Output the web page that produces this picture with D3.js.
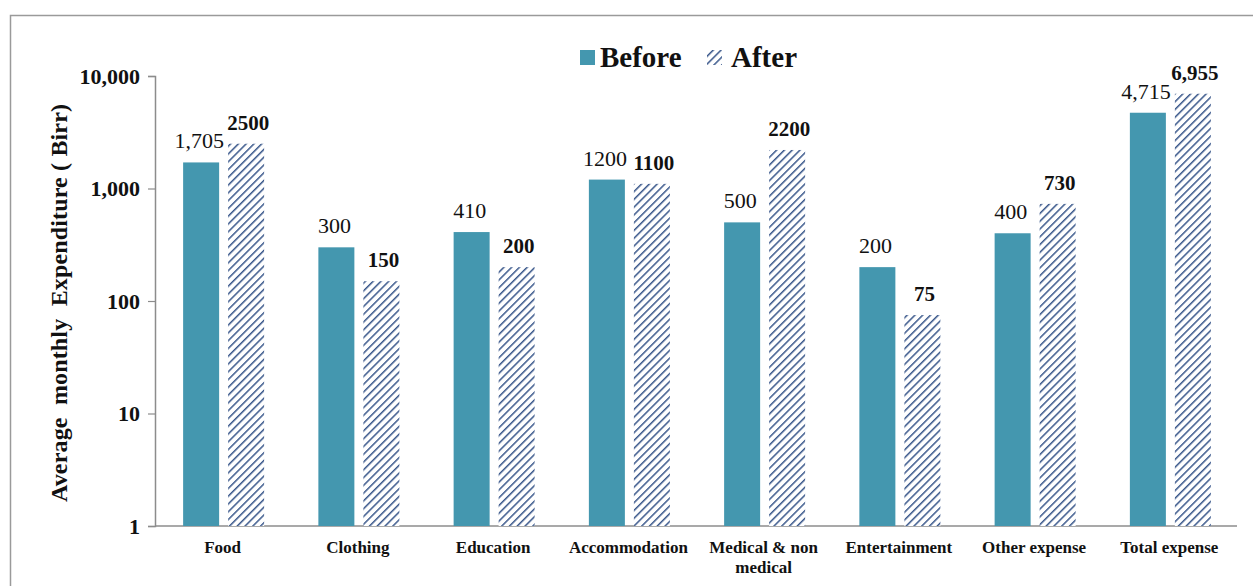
<!DOCTYPE html>
<html>
<head>
<meta charset="utf-8">
<script src="https://cdn.jsdelivr.net/npm/d3@7"></script>
<style>
  body { margin: 0; background: #fff; }
  text { font-family: "Liberation Serif", "Times New Roman", serif; }
</style>
</head>
<body>
<div id="viz"></div>
<script>
// ========================================
// Data
// ========================================
var categories = ['Food', 'Clothing', 'Education', 'Accommodation', 'Medical & non medical',
                  'Entertainment', 'Other expense', 'Total expense'];
var before_values = [1705, 300, 410, 1200, 500, 200, 400, 4715];
var after_values = [2500, 150, 200, 1100, 2200, 75, 730, 6955];
var before_labels = ['1,705', '300', '410', '1200', '500', '200', '400', '4,715'];
var after_labels = ['2500', '150', '200', '1100', '2200', '75', '730', '6,955'];
var y_ticks = [1, 10, 100, 1000, 10000];

// ========================================
// SVG
// ========================================
var width = 1253, height = 586;
var teal = '#4497AF', hatch = '#38568A';

var svg = d3.select('#viz').append('svg')
   .attr('width', width)
   .attr('height', height);

var defs = svg.append('defs');
var pat = defs.append('pattern')
   .attr('id', 'hatch')
   .attr('patternUnits', 'userSpaceOnUse')
   .attr('width', 5.5)
   .attr('height', 5.5)
   .attr('patternTransform', 'rotate(45)');
pat.append('rect').attr('width', 5.5).attr('height', 5.5).attr('fill', '#fff');
pat.append('line')
   .attr('x1', 0).attr('y1', 0).attr('x2', 0).attr('y2', 5.5)
   .attr('stroke', hatch).attr('stroke-width', 3);

// outer frame
svg.append('rect')
   .attr('x', 10.5).attr('y', 15.5)
   .attr('width', 1260).attr('height', 600)
   .attr('fill', 'none')
   .attr('stroke', '#9a9a9a')
   .attr('stroke-width', 1.5);

var plot_left = 155, plot_right = 1237, plot_top = 76, plot_bottom = 526;

var x = d3.scaleBand().domain(categories).range([plot_left, plot_right]);
var y = d3.scaleLog().domain([1, 10000]).range([plot_bottom, plot_top]);

var bar_w = 36, gap = 9;

// Y axis
var yAxis = svg.append('g')
   .attr('transform', `translate(${plot_left},0)`)
   .call(d3.axisLeft(y).tickValues(y_ticks).tickSize(7).tickFormat(d3.format(',')));
yAxis.select('.domain').attr('stroke', '#8c8c8c').attr('stroke-width', 1.5);
yAxis.selectAll('.tick line').attr('stroke', '#8c8c8c').attr('stroke-width', 1.2);
yAxis.selectAll('.tick text')
   .attr('x', -15)
   .style('font-family', '"Liberation Serif", serif')
   .style('font-size', '22px')
   .style('font-weight', 'bold')
   .attr('fill', '#111');

// X axis line
svg.append('line')
   .attr('x1', plot_left).attr('x2', plot_right)
   .attr('y1', plot_bottom).attr('y2', plot_bottom)
   .attr('stroke', '#8c8c8c').attr('stroke-width', 1.5);

// bars
var groups = svg.selectAll('.group')
   .data(categories)
   .enter()
   .append('g')
   .attr('class', 'group');

groups.append('rect')
   .attr('x', d => x(d) + x.bandwidth() / 2 - bar_w - gap / 2 + 1)
   .attr('y', (d, i) => y(before_values[i]))
   .attr('width', bar_w)
   .attr('height', (d, i) => plot_bottom - y(before_values[i]))
   .attr('fill', teal);

groups.append('rect')
   .attr('x', d => x(d) + x.bandwidth() / 2 + gap / 2 + 1)
   .attr('y', (d, i) => y(after_values[i]))
   .attr('width', bar_w)
   .attr('height', (d, i) => plot_bottom - y(after_values[i]))
   .attr('fill', 'url(#hatch)');

// value labels
groups.append('text')
   .attr('x', d => x(d) + x.bandwidth() / 2 - bar_w / 2 - gap / 2 - 1)
   .attr('y', (d, i) => y(before_values[i]) - 14)
   .attr('text-anchor', 'middle')
   .style('font-size', '22px')
   .attr('fill', '#111')
   .text((d, i) => before_labels[i]);

groups.append('text')
   .attr('x', d => x(d) + x.bandwidth() / 2 + bar_w / 2 + gap / 2 + 3)
   .attr('y', (d, i) => y(after_values[i]) - 14)
   .attr('text-anchor', 'middle')
   .style('font-size', '21px')
   .style('font-weight', 'bold')
   .attr('fill', '#111')
   .text((d, i) => after_labels[i]);

// category labels
groups.each(function(d) {
   var t = d3.select(this).append('text')
      .attr('x', x(d) + x.bandwidth() / 2)
      .attr('y', plot_bottom + 27)
      .attr('text-anchor', 'middle')
      .style('font-size', '17px')
      .style('font-weight', 'bold')
      .attr('fill', '#111');
   if (d === 'Medical & non medical') {
      t.append('tspan').attr('x', x(d) + x.bandwidth() / 2).text('Medical & non');
      t.append('tspan').attr('x', x(d) + x.bandwidth() / 2).attr('dy', 20).text('medical');
   } else {
      t.text(d);
   }
});

// y axis title
svg.append('text')
   .attr('transform', `translate(67, 303) rotate(-90)`)
   .attr('text-anchor', 'middle')
   .attr('xml:space', 'preserve')
   .attr('textLength', 398)
   .attr('lengthAdjust', 'spacing')
   .style('white-space', 'pre')
   .style('font-size', '24px')
   .style('font-weight', 'bold')
   .attr('fill', '#111')
   .text('Average  monthly  Expenditure ( Birr)');

// legend
var legend = svg.append('g');
legend.append('rect')
   .attr('x', 580).attr('y', 50).attr('width', 15).attr('height', 15)
   .attr('fill', teal);
legend.append('text')
   .attr('x', 600).attr('y', 67)
   .style('font-size', '29px')
   .style('font-weight', 'bold')
   .attr('fill', '#111')
   .text('Before');
legend.append('rect')
   .attr('x', 707).attr('y', 50).attr('width', 15).attr('height', 15)
   .attr('fill', 'url(#hatch)');
legend.append('text')
   .attr('x', 731).attr('y', 67)
   .style('font-size', '29px')
   .style('font-weight', 'bold')
   .attr('fill', '#111')
   .text('After');
</script>
</body>
</html>
